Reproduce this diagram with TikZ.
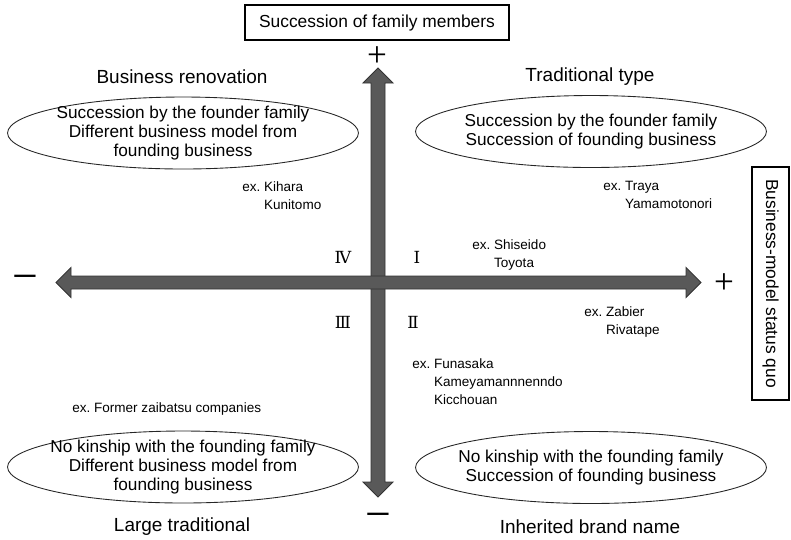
\documentclass[tikz,border=0pt]{standalone}
\usepackage{fontspec}
\setmainfont{Liberation Sans}
\newfontfamily\signfont{Liberation Serif}
\newfontfamily\romanfont{DejaVu Serif}
\usetikzlibrary{shapes.geometric}

\begin{document}
\begin{tikzpicture}[x=0.02cm, y=-0.02cm,
      axis/.style={fill=black!65, draw=black!80, line width=0.5pt},
      topic/.style={draw=black, line width=1.2pt, inner sep=0pt,
        font=\fontsize{9.9}{11}\selectfont},
      typ/.style={ellipse, draw=black!85, line width=0.5pt,
        inner xsep=-0.4cm, inner ysep=-0.25cm,
        minimum width=7.02cm, minimum height=1.44cm, align=center,
        font=\fontsize{9.8}{10.8}\selectfont},
      quad/.style={font=\fontsize{10.8}{12}\selectfont},
      ex/.style={anchor=north west, inner sep=0pt, align=left,
        font=\fontsize{7.7}{10.2}\selectfont},
      num/.style={font=\romanfont\fontsize{9.5}{10}\selectfont},
      plussign/.style={font=\signfont\fontsize{20}{20}\selectfont, inner sep=0pt},
      minussign/.style={font=\signfont\fontsize{26}{26}\selectfont, inner sep=0pt}
    ]
    \useasboundingbox (0,0) rectangle (791,539);
    % axes
    \coordinate (vtop) at (378,68);
    \coordinate (vbot) at (378,497);
    \coordinate (hl) at (56,282.5);
    \coordinate (hr) at (701,282.5);
    \path[axis] (vtop) -- ++(15,15) -- ++(-8,0) -- ++(0,399) -- ++(8,0) -- (vbot)
      -- ++(-15,-15) -- ++(8,0) -- ++(0,-399) -- ++(-8,0) -- cycle;
    \path[axis] (hl) -- ++(15,-15) -- ++(0,8.5) -- ++(615,0) -- ++(0,-8.5) -- (hr)
      -- ++(-15,15) -- ++(0,-8.5) -- ++(-615,0) -- ++(0,8.5) -- cycle;
    \node[plussign] (ptop) at (377,57) {+};
    \node[plussign] (pright) at (724,284) {+};
    \node[minussign] (mleft) at (25,283) {−};
    \node[minussign] (mbot) at (378,521) {−};
    % axis titles
    \node[topic, minimum width=5.28cm, minimum height=0.7cm] (family) at (377,22.5)
      {Succession of family members};
    \node[topic, rotate=-90, minimum width=4.66cm, minimum height=0.74cm] (model)
      at (770.5,283.5) {Business-model status quo};
    % quadrants
    \node[quad] (renov) at (182,77) {Business renovation};
    \node[quad] (trad) at (590,77) {Traditional type};
    \node[quad] (large) at (182,527) {Large traditional};
    \node[quad] (brand) at (590,527) {Inherited brand name};
    \node[typ] (tl) at (183,133) {Succession by the founder family\\
      Different business model from\\founding business};
    \node[typ] (tr) at (591,131.5) {Succession by the founder family\\
      Succession of founding business};
    \node[typ] (bl) at (183,467) {No kinship with the founding family\\
      Different business model from\\founding business};
    \node[typ] (br) at (591,467.5) {No kinship with the founding family\\
      Succession of founding business};
    \node[num] (q4) at (343,257) {Ⅳ};
    \node[num] (q1) at (417,257) {Ⅰ};
    \node[num] (q3) at (343,322) {Ⅲ};
    \node[num] (q2) at (413,322) {Ⅱ};
    % examples
    \node[ex] (kihara) at (242,181) {ex.\ Kihara\\\phantom{ex.\ }Kunitomo};
    \node[ex] (traya) at (603,181) {ex.\ Traya\\\phantom{ex.\ }Yamamotonori};
    \node[ex] (shiseido) at (472,239) {ex.\ Shiseido\\\phantom{ex.\ }Toyota};
    \node[ex] (zabier) at (584,306) {ex.\ Zabier\\\phantom{ex.\ }Rivatape};
    \node[ex] (funasaka) at (412,358) {ex.\ Funasaka\\\phantom{ex.\ }Kameyamannnenndo\\
      \phantom{ex.\ }Kicchouan};
    \node[ex] (zaibatsu) at (72,402) {ex.\ Former zaibatsu companies};
  \end{tikzpicture}
\end{document}
